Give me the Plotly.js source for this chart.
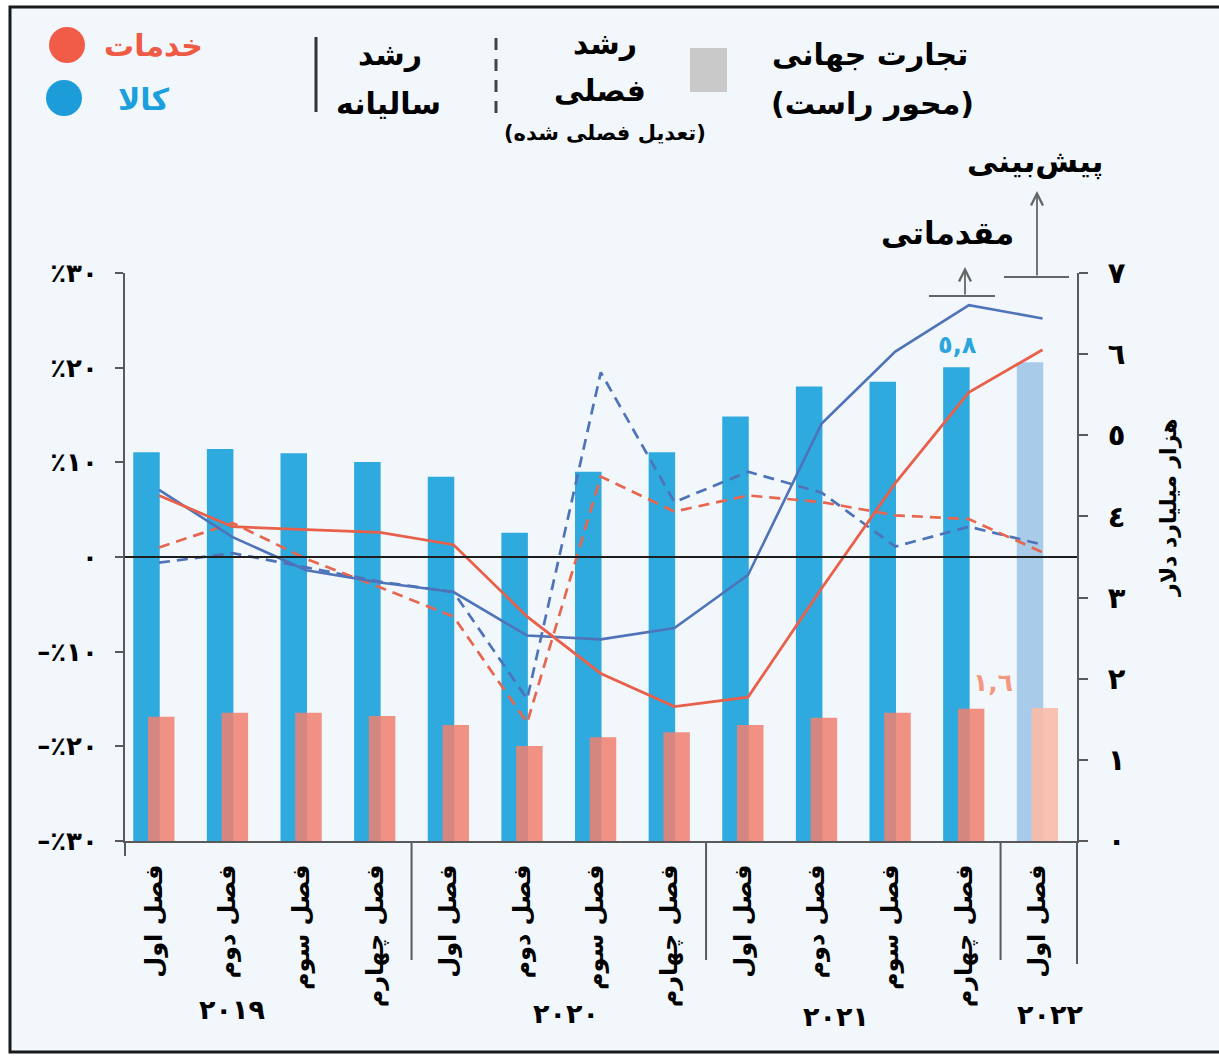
<!DOCTYPE html>
<html><head><meta charset="utf-8">
<script src="https://cdn.plot.ly/plotly-3.0.1.min.js"></script>
<style>html,body{margin:0;padding:0;background:#fff}#chart{width:1219px;height:1056px}</style>
</head><body><div id="chart"></div>
<script>
// ---- data ----
const quarters = ['فصل اول','فصل دوم','فصل سوم','فصل چهارم','فصل اول','فصل دوم','فصل سوم','فصل چهارم','فصل اول','فصل دوم','فصل سوم','فصل چهارم','فصل اول'];
const years = ['۲۰۱۹','۲۰۲۰','۲۰۲۱','۲۰۲۲'];
const goodsTrade = [4.79,4.83,4.78,4.67,4.49,3.80,4.55,4.79,5.23,5.60,5.66,5.84,5.90];
const servicesTrade = [1.53,1.58,1.58,1.54,1.43,1.17,1.28,1.34,1.43,1.52,1.58,1.63,1.64];
const goodsAnnual = [7.1,2.1,-1.4,-2.7,-3.7,-8.3,-8.7,-7.5,-1.9,14.1,21.7,26.6,25.2];
const servicesAnnual = [6.5,3.2,2.9,2.6,1.3,-6.3,-12.3,-15.8,-14.8,-3.3,7.8,17.4,21.9];
const goodsQuarterly = [-0.6,0.4,-1.1,-2.6,-3.7,-15.0,19.5,5.8,9.0,6.8,1.1,3.2,1.3];
const servicesQuarterly = [1.0,3.6,-0.2,-3.2,-6.3,-17.5,8.5,4.8,6.5,5.8,4.4,4.0,0.5];
const pctTicks = [-30,-20,-10,0,10,20,30];
const pctLabels = ['–٪۳۰','–٪۲۰','–٪۱۰','۰','٪۱۰','٪۲۰','٪۳۰'];
const valTicks = [0,1,2,3,4,5,6,7];
const valLabels = ['٠','١','٢','٣','٤','٥','٦','٧'];
const goodsLabel = '٥,٨';
const servicesLabel = '١,٦';
const labelIndex = 11;
const forecastIndex = 12;

// ---- geometry helpers (layout only) ----
const W = 1219, H = 1056;
const L = 125, R = 1077, T = 273, B = 841;
const fx = px => (px - L) / (R - L);
const fy = py => (B - py) / (B - T);
const FONT = 'DejaVu Sans, sans-serif';

const idx = quarters.map((_, i) => i);
const goodsColors = idx.map(i => i === forecastIndex ? '#a9cbea' : '#2eaadf');
const servColors = idx.map(i => i === forecastIndex ? 'rgba(250,188,168,0.92)' : 'rgba(240,128,112,0.86)');
const lineX = idx.map(i => i + 0.17);

const traces = [
  {type:'bar', x: idx, y: goodsTrade, yaxis:'y', width:0.36,
   marker:{color: goodsColors, line:{width:0}}, hoverinfo:'skip'},
  {type:'bar', x: idx.map(i => i + 0.2), y: servicesTrade, yaxis:'y', width:0.36,
   marker:{color: servColors, line:{width:0}}, hoverinfo:'skip'},
  {type:'scatter', mode:'lines', x: lineX, y: goodsQuarterly, yaxis:'y2',
   line:{color:'#4f73b8', width:2.7, dash:'11px,7px'}},
  {type:'scatter', mode:'lines', x: lineX, y: servicesQuarterly, yaxis:'y2',
   line:{color:'#e8664f', width:2.7, dash:'11px,7px'}},
  {type:'scatter', mode:'lines', x: lineX, y: goodsAnnual, yaxis:'y2',
   line:{color:'#4f73b8', width:2.6}},
  {type:'scatter', mode:'lines', x: lineX, y: servicesAnnual, yaxis:'y2',
   line:{color:'#e8604a', width:2.8}}
];

const lineC = '#5a5a5a';
const shapes = [
  // frame
  {type:'rect', xref:'paper', yref:'paper', x0: fx(10), x1: fx(1320), y0: fy(7), y1: fy(1052),
   line:{color:'#1a1a1a', width:3}, fillcolor:'#f2f7fb', layer:'below'},
  // zero line
  {type:'line', xref:'paper', yref:'y2', x0:0, x1:1, y0:0, y1:0, line:{color:'#1e1e1e', width:2.2}, layer:'above'},
  // year separators below axis
  {type:'line', xref:'x', yref:'paper', x0:3.6, x1:3.6, y0:0, y1:fy(960), line:{color:lineC, width:2}},
  {type:'line', xref:'x', yref:'paper', x0:7.6, x1:7.6, y0:0, y1:fy(960), line:{color:lineC, width:2}},
  {type:'line', xref:'x', yref:'paper', x0:11.6, x1:11.6, y0:0, y1:fy(960), line:{color:lineC, width:2}},
  {type:'line', xref:'paper', yref:'paper', x0:1, x1:1, y0:0, y1:fy(964), line:{color:lineC, width:2}},
  {type:'line', xref:'paper', yref:'paper', x0:0, x1:0, y0:0, y1:fy(856), line:{color:lineC, width:2}},
  // legend: circles
  {type:'circle', xref:'paper', yref:'paper', x0:fx(49), x1:fx(85), y0:fy(27), y1:fy(63),
   fillcolor:'#f05c47', line:{width:0}},
  {type:'circle', xref:'paper', yref:'paper', x0:fx(46), x1:fx(82), y0:fy(80), y1:fy(116),
   fillcolor:'#1c9cd8', line:{width:0}},
  // legend: solid and dashed
  {type:'line', xref:'paper', yref:'paper', x0:fx(316), x1:fx(316), y0:fy(37), y1:fy(112), line:{color:'#333', width:3}},
  {type:'line', xref:'paper', yref:'paper', x0:fx(496), x1:fx(496), y0:fy(38), y1:fy(118), line:{color:'#444', width:3, dash:'12px,9px'}},
  // legend: gray square
  {type:'rect', xref:'paper', yref:'paper', x0:fx(690), x1:fx(727), y0:fy(48), y1:fy(92),
   fillcolor:'#c9c9c9', line:{width:0}},
  // forecast brackets
  {type:'line', xref:'paper', yref:'paper', x0:fx(1004), x1:fx(1069), y0:fy(277), y1:fy(277), line:{color:'#666', width:2}},
  {type:'line', xref:'paper', yref:'paper', x0:fx(929), x1:fx(995), y0:fy(296), y1:fy(296), line:{color:'#666', width:2}}
];

function txt(text, px, py, size, color, extra) {
  return Object.assign({text, xref:'paper', yref:'paper', x: fx(px), y: fy(py),
    xanchor:'center', yanchor:'middle', showarrow:false,
    font:{family:FONT, size, color: color || '#000', weight:'bold'}}, extra || {});
}

const annotations = [
  txt('خدمات', 153, 45, 30, '#ef5a44'),
  txt('کالا', 144, 100, 30, '#1aa0dc'),
  txt('رشد', 390, 55, 30),
  txt('سالیانه', 388, 104, 30),
  txt('رشد', 605, 43, 30),
  txt('فصلی', 600, 90, 30),
  txt('(تعدیل فصلی شده)', 605, 133, 21),
  txt('تجارت جهانی', 870, 55, 30),
  txt('(محور راست)', 872, 104, 30),
  txt('پیش‌بینی', 1035, 161, 31),
  txt('مقدماتی', 947, 233, 31),
  txt('هزار میلیارد دلار', 1169, 508, 22, '#000', {textangle:-90}),
  // years
  txt(years[0], 232, 1010, 27),
  txt(years[1], 566, 1013, 27),
  txt(years[2], 836, 1016, 27),
  txt(years[3], 1050, 1014, 27),
  // arrows
  {text:'', xref:'paper', yref:'paper', x: fx(1037), y: fy(191), ax:0, ay:86,
   showarrow:true, arrowhead:5, arrowsize:1.3, arrowwidth:1.8, arrowcolor:'#666'},
  {text:'', xref:'paper', yref:'paper', x: fx(965), y: fy(267), ax:0, ay:29,
   showarrow:true, arrowhead:5, arrowsize:1.3, arrowwidth:1.8, arrowcolor:'#666'},
  // data labels
  {text: goodsLabel, xref:'x', yref:'y', x: labelIndex, y: goodsTrade[labelIndex],
   xanchor:'center', yanchor:'bottom', yshift:6, xshift:1, showarrow:false,
   font:{family:FONT, size:24, color:'#2aa5de', weight:'bold'}},
  {text: servicesLabel, xref:'x', yref:'y', x: labelIndex + 0.2, y: servicesTrade[labelIndex],
   xanchor:'center', yanchor:'bottom', yshift:10, xshift:22, showarrow:false,
   font:{family:FONT, size:25, color:'#f4977f', weight:'bold'}}
];

const layout = {
  width: W, height: H,
  margin: {l: L, r: W - R, t: T, b: H - B, pad: 0},
  paper_bgcolor: '#ffffff',
  plot_bgcolor: 'rgba(0,0,0,0)',
  showlegend: false,
  barmode: 'overlay',
  font: {family: FONT, color: '#000'},
  xaxis: {
    range: [-0.292, 12.638], tickmode:'array',
    tickvals: idx.map(i => i + 0.1), ticktext: quarters,
    tickangle: -90, ticks: '', ticklabelstandoff: 12,
    tickfont: {family: FONT, size: 24, color:'#000', weight:'bold'},
    showline: true, linecolor: lineC, linewidth: 2,
    showgrid: false, zeroline: false, fixedrange: true
  },
  yaxis: {
    side: 'right', range: [0, 7], tickmode:'array',
    tickvals: valTicks, ticktext: valLabels,
    ticks: 'outside', ticklen: 9, tickwidth: 2, tickcolor: lineC,
    ticklabelstandoff: 14,
    tickfont: {family: FONT, size: 29, color:'#000', weight:'bold'},
    showline: true, linecolor: lineC, linewidth: 2,
    showgrid: false, zeroline: false, fixedrange: true
  },
  yaxis2: {
    overlaying: 'y', side: 'left', range: [-30, 30], tickmode:'array',
    tickvals: pctTicks, ticktext: pctLabels,
    ticks: 'outside', ticklen: 8, tickwidth: 2, tickcolor: lineC,
    ticklabelstandoff: 12,
    tickfont: {family: FONT, size: 26, color:'#000', weight:'bold'},
    showline: true, linecolor: lineC, linewidth: 2,
    showgrid: false, zeroline: false, fixedrange: true
  },
  shapes, annotations
};

Plotly.newPlot('chart', traces, layout, {displayModeBar:false, staticPlot:true});
</script>
</body></html>
